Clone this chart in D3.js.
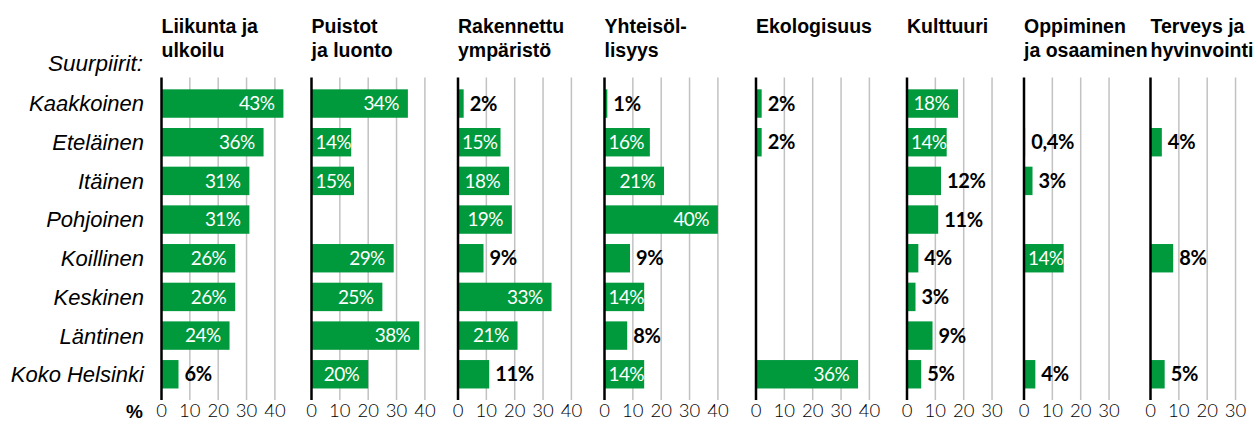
<!DOCTYPE html>
<html>
<head>
<meta charset="utf-8">
<script src="https://cdn.jsdelivr.net/npm/d3@7"></script>
<style>
  body { margin: 0; background: #fff; }
  svg { display: block; }
</style>
</head>
<body>
<svg id="chart" width="1258" height="424"></svg>
<script>
const districts = ['Kaakkoinen', 'Eteläinen', 'Itäinen', 'Pohjoinen', 'Koillinen', 'Keskinen', 'Läntinen', 'Koko Helsinki'];

const titles = [
  ['Liikunta ja', 'ulkoilu'],
  ['Puistot', 'ja luonto'],
  ['Rakennettu', 'ympäristö'],
  ['Yhteisöl-', 'lisyys'],
  ['Ekologisuus'],
  ['Kulttuuri'],
  ['Oppiminen', 'ja osaaminen'],
  ['Terveys ja', 'hyvinvointi']
];

// % per district, null = no answer
const liikunta    = [43, 36, 31, 31, 26, 26, 24, 6];
const puistot     = [34, 14, 15, null, 29, 25, 38, 20];
const rakennettu  = [2, 15, 18, 19, 9, 33, 21, 11];
const yhteiso     = [1, 16, 21, 40, 9, 14, 8, 14];
const ekologisuus = [2, 2, null, null, null, null, null, 36];
const kulttuuri   = [18, 14, 12, 11, 4, 3, 9, 5];
const oppiminen   = [null, 0.4, 3, null, 14, null, null, 4];
const terveys     = [null, 4, null, null, 8, null, null, 5];

const series = [liikunta, puistot, rakennettu, yhteiso, ekologisuus, kulttuuri, oppiminen, terveys];
const axisMax = [40, 40, 40, 40, 40, 30, 30, 30];

// layout
const panelX = [161.5, 311.5, 458, 604.5, 756, 907, 1024, 1150.5];
const pxPerUnit = 2.835;
const gridTop = 77.5, gridBottom = 400;
const green = '#009a3d';

const svg = d3.select('#chart');

const y = d3.scaleBand()
  .domain(districts)
  .range([84.2, 393.6])
  .paddingInner(0.265)
  .paddingOuter(0.1325);

const fmt = v => String(v).replace('.', ',') + '%';
const inside = v => v >= 13;

// row labels
svg.append('text')
  .attr('x', 143)
  .attr('y', 71)
  .attr('text-anchor', 'end')
  .style('font', 'italic 22.5px "Liberation Sans", Arial, sans-serif')
  .text('Suurpiirit:');

svg.selectAll('text.district')
  .data(districts)
  .enter()
  .append('text')
    .attr('class', 'district')
    .attr('x', 144)
    .attr('y', d => y(d) + y.bandwidth() / 2)
    .attr('dy', '0.36em')
    .attr('text-anchor', 'end')
    .style('font', 'italic 22px "Liberation Sans", Arial, sans-serif')
    .text(d => d);

svg.append('text')
  .attr('x', 143)
  .attr('y', 411)
  .attr('dy', '0.35em')
  .attr('text-anchor', 'end')
  .style('font', 'bold 19px "Liberation Sans", Arial, sans-serif')
  .text('%');

series.forEach((values, i) => {
  const x = d3.scaleLinear()
    .domain([0, axisMax[i]])
    .range([panelX[i], panelX[i] + axisMax[i] * pxPerUnit]);

  const g = svg.append('g');

  // header
  g.append('text')
    .attr('x', panelX[i])
    .attr('y', 33)
    .style('font', 'bold 19.5px "Liberation Sans", Arial, sans-serif')
    .selectAll('tspan')
    .data(titles[i])
    .enter()
    .append('tspan')
      .attr('x', panelX[i])
      .attr('dy', (d, j) => j ? 24 : 0)
      .text(d => d);

  // grid
  const ticks = d3.range(10, axisMax[i] + 1, 10);
  g.selectAll('line.grid')
    .data(ticks)
    .enter()
    .append('line')
      .attr('x1', d => x(d))
      .attr('x2', d => x(d))
      .attr('y1', gridTop)
      .attr('y2', gridBottom)
      .style('stroke', '#c2c2c2')
      .style('stroke-width', 1.5);

  const rows = districts.map((d, j) => ({ district: d, value: values[j] }))
    .filter(d => d.value !== null);

  g.selectAll('rect')
    .data(rows)
    .enter()
    .append('rect')
      .attr('x', x(0))
      .attr('y', d => y(d.district))
      .attr('width', d => x(d.value) - x(0))
      .attr('height', y.bandwidth())
      .style('fill', green);

  g.selectAll('text.value')
    .data(rows)
    .enter()
    .append('text')
      .attr('class', 'value')
      .attr('y', d => y(d.district) + y.bandwidth() / 2)
      .attr('dy', '0.36em')
      .attr('text-anchor', d => inside(d.value) ? 'end' : 'start')
      .style('fill', d => inside(d.value) ? '#fff' : '#000')
      .style('font-family', 'Lato, sans-serif')
      .style('font-size', d => inside(d.value) ? '19px' : '20px')
      .style('letter-spacing', d => inside(d.value) ? '-0.6px' : '-0.3px')
      .style('font-weight', d => inside(d.value) ? 400 : 700)
      .text(d => fmt(d.value))
      .attr('x', function(d) {
        if (!inside(d.value)) return x(d.value) + 6;
        const w = this.getComputedTextLength();
        return Math.max(x(d.value) - 9, x(0) + 4 + w);
      });

  // zero line
  g.append('line')
    .attr('x1', x(0))
    .attr('x2', x(0))
    .attr('y1', gridTop)
    .attr('y2', gridBottom)
    .style('stroke', '#000')
    .style('stroke-width', 2.5);

  // tick labels
  g.selectAll('text.tick')
    .data([0].concat(ticks))
    .enter()
    .append('text')
      .attr('class', 'tick')
      .attr('x', d => x(d))
      .attr('y', 411)
      .attr('dy', '0.35em')
      .attr('text-anchor', 'middle')
      .style('font-family', 'Lato, sans-serif')
      .style('font-weight', 300)
      .style('font-size', '18.5px')
      .text(d => d);
});
</script>
</body>
</html>
